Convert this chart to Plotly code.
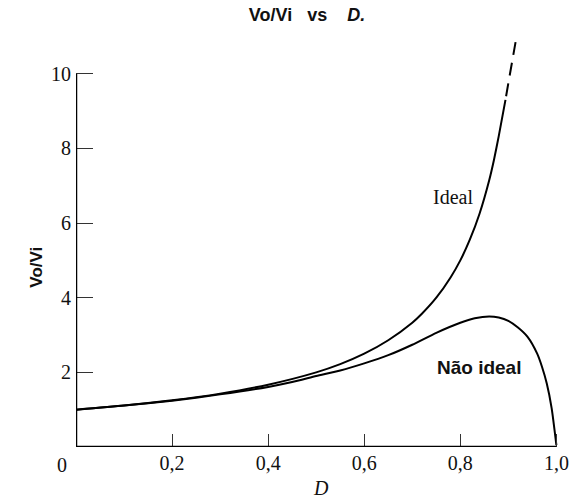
import plotly.graph_objects as go

# Duty cycle D and voltage gain Vo/Vi of the boost converter
d_ideal = [0.0, 0.1, 0.2, 0.3, 0.4, 0.5, 0.55, 0.6, 0.65, 0.7, 0.72, 0.75, 0.78,
           0.8, 0.82, 0.84, 0.86, 0.87, 0.88, 0.894]
v_ideal = [1.0, 1.11, 1.25, 1.43, 1.67, 2.0, 2.22, 2.5, 2.86, 3.33, 3.57, 4.0, 4.55,
           5.0, 5.56, 6.25, 7.14, 7.69, 8.33, 9.3]

# Continuation of the ideal curve (dashed, top first)
d_ideal_ext = [0.915, 0.91, 0.905, 0.90, 0.894]
v_ideal_ext = [10.85, 10.45, 10.1, 9.75, 9.3]

d_real = [0.0, 0.1, 0.2, 0.3, 0.4, 0.45, 0.5, 0.55, 0.6, 0.65, 0.7, 0.75,
          0.8, 0.83, 0.86, 0.88, 0.9, 0.92, 0.94, 0.96, 0.97, 0.98, 0.99, 1.0]
v_real = [1.0, 1.11, 1.24, 1.41, 1.61, 1.74, 1.90, 2.05, 2.24, 2.46, 2.74, 3.06,
          3.33, 3.45, 3.50, 3.47, 3.38, 3.20, 2.95, 2.50, 2.15, 1.70, 1.05, 0.05]

x_ticks = [0.2, 0.4, 0.6, 0.8, 1.0]
x_ticktext = ["0,2", "0,4", "0,6", "0,8", "1,0"]
y_ticks = [2, 4, 6, 8, 10]

SERIF = "Liberation Serif, Times New Roman, serif"
SANS = "Liberation Sans, Arial, sans-serif"
line_style = dict(color="black", width=2)

fig = go.Figure()
fig.add_trace(go.Scatter(x=d_ideal, y=v_ideal, mode="lines",
                         line=dict(line_style, shape="spline", smoothing=0.6),
                         hoverinfo="skip"))
fig.add_trace(go.Scatter(x=d_ideal_ext, y=v_ideal_ext, mode="lines",
                         line=dict(color="black", width=2, dash="13px,8px"),
                         hoverinfo="skip"))
fig.add_trace(go.Scatter(x=d_real, y=v_real, mode="lines",
                         line=dict(line_style, shape="spline", smoothing=0.6),
                         hoverinfo="skip"))

# Axis lines: y-axis stops at 10, x-axis at 1.0
fig.add_shape(type="line", x0=0, x1=0, y0=0, y1=10, xref="x", yref="y",
              line=dict(color="black", width=2.5))
fig.add_shape(type="line", x0=0, x1=1.0, y0=0, y1=0, xref="x", yref="y",
              line=dict(color="black", width=2.5))

fig.add_annotation(x=0.785, y=6.70, xref="x", yref="y", text="Ideal",
                   showarrow=False, font=dict(family=SERIF, size=20, color="#111"))
fig.add_annotation(x=0.838, y=2.12, xref="x", yref="y", text="<b>Não ideal</b>",
                   showarrow=False, font=dict(family=SANS, size=19, color="#111"))
fig.add_annotation(x=-0.1035, y=0.431, xref="paper", yref="paper",
                   text="<b>Vo/Vi</b>", textangle=-90, showarrow=False,
                   font=dict(family=SANS, size=17, color="#111"))
fig.add_annotation(x=0.511, y=-0.097, xref="x", yref="paper", text="<i>D</i>",
                   showarrow=False, yanchor="middle",
                   font=dict(family=SERIF, size=20, color="#111"))
# Shared origin label
fig.add_annotation(x=-0.0284, y=-0.042, xref="paper", yref="paper", text="0",
                   showarrow=False, xanchor="center", yanchor="middle",
                   font=dict(family=SERIF, size=20, color="#111"))

fig.update_layout(
    width=575, height=498,
    margin=dict(l=76, r=6, t=29, b=51),
    paper_bgcolor="white", plot_bgcolor="white",
    showlegend=False,
    title=dict(text="<b>Vo/Vi&nbsp;&nbsp;&nbsp;vs&nbsp;&nbsp;&nbsp;&nbsp;<i>D.</i></b>",
               xref="container", yref="container",
               x=0.534, y=0.97, xanchor="center", yanchor="middle",
               font=dict(family=SANS, size=18, color="#111")),
    xaxis=dict(range=[0, 1.02], showgrid=False, zeroline=False, showline=False,
               tickvals=x_ticks, ticktext=x_ticktext, ticks="inside", ticklen=13,
               tickwidth=1, tickcolor="#333", ticklabelstandoff=2,
               tickfont=dict(family=SERIF, size=20, color="#111")),
    yaxis=dict(range=[0, 11.2], showgrid=False, zeroline=False, showline=False,
               tickvals=y_ticks, ticks="inside", ticklen=17,
               tickwidth=1, tickcolor="#333", ticklabelstandoff=4,
               tickfont=dict(family=SERIF, size=20, color="#111")),
)

fig.write_html("out.html")
